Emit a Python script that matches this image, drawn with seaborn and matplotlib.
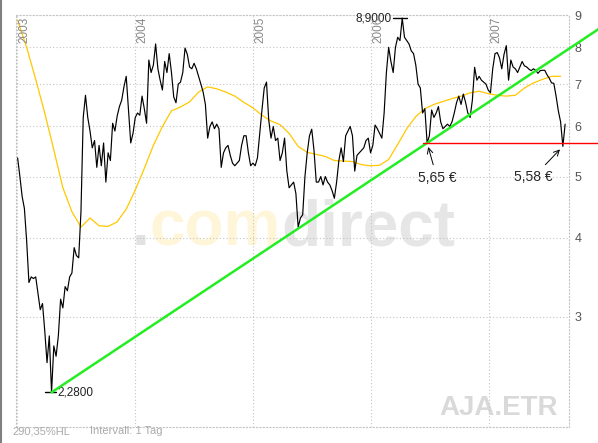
import pandas as pd
import numpy as np
import seaborn as sns
import matplotlib.pyplot as plt
from matplotlib.lines import Line2D

## weekly closing prices (EUR), first week of Jan 2003 onwards
prices = [
    5.35, 5.00, 4.65, 4.45, 3.95, 3.40, 3.47, 3.45, 3.47, 3.27,
    3.08, 3.15, 2.85, 2.54, 2.80, 2.28, 2.70, 2.60, 2.80, 3.20,
    3.10, 3.35, 3.30, 3.47, 3.52, 3.86, 3.75, 3.72, 4.40, 6.20,
    6.72, 6.20, 5.90, 5.55, 5.70, 5.17, 5.60, 5.20, 5.65, 4.90,
    5.45, 5.30, 6.07, 5.90, 6.23, 6.45, 6.60, 6.93, 7.20, 6.37,
    5.65, 5.85, 6.20, 6.30, 6.25, 6.70, 6.40, 6.07, 7.64, 7.30,
    7.50, 8.10, 7.40, 7.10, 6.85, 7.60, 7.30, 7.82, 7.30, 6.68,
    6.54, 7.00, 7.05, 7.30, 7.98, 7.80, 7.45, 7.40, 7.55, 7.40,
    7.20, 7.00, 6.80, 6.50, 5.75, 6.00, 6.10, 5.95, 6.05, 5.95,
    5.17, 5.45, 5.55, 5.60, 5.40, 5.25, 5.20, 5.25, 5.30, 5.60,
    5.80, 5.80, 5.45, 5.20, 5.25, 5.20, 5.35, 5.85, 6.37, 6.90,
    7.05, 6.14, 5.75, 6.00, 5.70, 5.75, 5.30, 5.45, 5.75, 5.10,
    4.80, 4.85, 4.90, 4.70, 4.16, 4.30, 4.35, 5.00, 5.45, 5.80,
    5.94, 5.50, 4.90, 4.90, 5.00, 4.85, 5.00, 4.90, 4.85, 4.75,
    4.62, 4.90, 5.30, 5.55, 5.28, 5.80, 5.90, 6.00, 5.80, 5.10,
    5.40, 5.45, 5.50, 5.55, 5.70, 5.75, 5.45, 5.60, 6.03, 5.95,
    5.85, 5.75, 6.30, 7.30, 8.00, 7.60, 7.30, 8.00, 8.30, 8.20,
    8.90, 8.30, 8.20, 8.10, 7.90, 7.82, 7.50, 7.00, 6.90, 6.30,
    6.40, 5.65, 5.80, 6.37, 6.20, 6.30, 6.45, 6.10, 5.95, 6.00,
    6.05, 6.00, 6.10, 6.30, 6.54, 6.70, 6.50, 6.75, 6.55, 6.30,
    6.20, 6.60, 7.44, 7.10, 7.20, 7.10, 7.05, 7.00, 6.85, 6.78,
    7.40, 7.82, 7.85, 7.70, 7.40, 7.80, 8.05, 7.10, 7.64, 7.45,
    7.40, 7.30, 7.45, 7.60, 7.48, 7.45, 7.39, 7.35, 7.40, 7.36,
    7.28, 7.35, 7.36, 7.36, 7.24, 7.15, 7.03, 7.02, 6.70, 6.35,
    6.10, 5.58, 6.05,
]

## 200 day average, sampled every 4 weeks
avg200 = [
    8.83, 8.00, 7.12, 6.30, 5.51, 4.80, 4.40, 4.16, 4.30, 4.18,
    4.17, 4.24, 4.44, 4.76, 5.15, 5.60, 6.00, 6.35, 6.44, 6.56,
    6.80, 6.93, 6.88, 6.80, 6.70, 6.55, 6.42, 6.25, 6.12, 6.04,
    5.85, 5.58, 5.46, 5.42, 5.38, 5.30, 5.29, 5.28, 5.22, 5.20,
    5.21, 5.32, 5.62, 5.95, 6.22, 6.40, 6.50, 6.57, 6.64, 6.70,
    6.78, 6.82, 6.76, 6.72, 6.70, 6.72, 6.90, 7.03, 7.12, 7.20,
    7.20,
]

year_labels = ['2003', '2004', '2005', '2006', '2007']
price_ticks = [3, 4, 5, 6, 7, 8, 9]
support = 5.65
low_labels = ['5,65 €', '5,58 €']

df = pd.DataFrame({'date': pd.date_range('2003-01-03', periods=len(prices), freq='W-FRI'),
                   'price': prices})
ma = pd.DataFrame({'date': pd.date_range('2003-01-03', periods=len(avg200), freq='4W-FRI'),
                   'avg': avg200})

sns.set_style('white')
plt.rcParams['font.family'] = ['Liberation Sans', 'DejaVu Sans']

fig = plt.figure(figsize=(5.98, 4.43), dpi=100)
ax = fig.add_axes([16 / 598, 16 / 443, 553 / 598, 412 / 443])

# watermark behind everything
wm = dict(transform=fig.transFigure, fontsize=46, fontweight='bold', va='baseline',
          zorder=0.5, clip_on=False)
ax.text(132 / 598, 1 - 245 / 443, '.', color='#e2e2e2', **wm)
ax.text(150 / 598, 1 - 245 / 443, 'com', color='#fff6da', **wm)
ax.text(281 / 598, 1 - 245 / 443, 'direct', color='#e6e6e6', **wm)
ax.text(558 / 598, 1 - 415 / 443, 'AJA.ETR', transform=fig.transFigure, fontsize=20,
        fontweight='bold', color='#d9d9d9', ha='right', va='baseline', zorder=0.5)

sns.lineplot(data=ma, x='date', y='avg', color='#ffc800', lw=0.9, estimator=None, ax=ax)
sns.lineplot(data=df, x='date', y='price', color='black', lw=0.85, estimator=None, ax=ax)

ax.set_yscale('log')
ax.set_ylim(2.01, 9.0)
x_end = pd.Timestamp('2007-09-05')
ax.set_xlim(pd.Timestamp('2002-12-29'), x_end)
edge = pd.Timestamp('2007-12-05')   # right edge of the picture

# trend line through the 2003 low and the 2006 low
i_low = df['price'].idxmin()
mid = df[(df['date'] > '2006-05-01') & (df['date'] < '2006-09-01')]
i_touch = mid['price'].idxmin()
d0, p0 = df.loc[i_low, 'date'], df.loc[i_low, 'price']
d1, p1 = df.loc[i_touch, 'date'], df.loc[i_touch, 'price']
slope = (np.log(p1) - np.log(p0)) / (d1 - d0).days
p_edge = np.exp(np.log(p0) + slope * (edge - d0).days)
ax.plot([d0, edge], [p0, p_edge], color='#22ee22', lw=1.8, clip_on=False, zorder=4)

# support line
ax.plot([d1 - pd.Timedelta(weeks=2), edge], [support, support], color='red', lw=1,
        clip_on=False, zorder=4)

# high / low markers
i_high = df['price'].idxmax()
dh, ph = df.loc[i_high, 'date'], df.loc[i_high, 'price']
ax.plot([dh - pd.Timedelta(weeks=4), dh + pd.Timedelta(weeks=2)], [ph, ph], color='black', lw=1)
ax.annotate('8,9000', xy=(dh - pd.Timedelta(weeks=4), ph), xytext=(-1, 0),
            textcoords='offset points', ha='right', va='center', fontsize=8.5, color='#222')
ax.plot([d0 - pd.Timedelta(weeks=3), d0 + pd.Timedelta(weeks=2)], [p0, p0], color='black', lw=1)
ax.annotate('2,2800', xy=(d0 + pd.Timedelta(weeks=2), p0), xytext=(1, 0),
            textcoords='offset points', ha='left', va='center', fontsize=8.5, color='#222')

# the two lows with arrows
d2, p2 = df['date'].iloc[-2], df['price'].iloc[-2]
ax.annotate(low_labels[0], xy=(d1, p1), xytext=(7, -25), textcoords='offset points',
            ha='center', va='center', fontsize=10,
            arrowprops=dict(arrowstyle='->', color='black', lw=0.7, shrinkA=2, shrinkB=3))
ax.annotate(low_labels[1], xy=(d2, p2), xytext=(-21, -22), textcoords='offset points',
            ha='center', va='center', fontsize=10,
            arrowprops=dict(arrowstyle='->', color='black', lw=0.7, shrinkA=2, shrinkB=3))

# grid, ticks, year labels
years = [pd.Timestamp(y + '-01-01') for y in year_labels]
ax.set_xticks(years)
ax.set_xticklabels([])
ax.set_yticks(price_ticks)
ax.set_yticklabels([str(t) for t in price_ticks])
ax.yaxis.set_minor_locator(plt.NullLocator())
ax.yaxis.tick_right()
ax.tick_params(axis='both', length=0)
ax.tick_params(axis='y', pad=4, labelcolor='#555555', labelsize=9)
ax.grid(True, color='#c4c4c4', ls=(0, (1, 2)), lw=0.8)
ax.set_axisbelow(True)
for s in ax.spines.values():
    s.set_color('#c4c4c4')
    s.set_linestyle((0, (1, 2)))
    s.set_linewidth(0.8)
ax.set_xlabel('')
ax.set_ylabel('')

for lab, d in zip(year_labels, years):
    ax.annotate(lab, xy=(d, 1), xycoords=('data', 'axes fraction'), xytext=(1, -1),
                textcoords='offset points', rotation=90, ha='left', va='top',
                fontsize=8.5, color='#888888')

fig.text(12 / 598, 1 - 431 / 443, '290,35%HL', va='center', fontsize=8, color='#aaaaaa')
fig.text(90 / 598, 1 - 431 / 443, 'Intervall: 1 Tag', va='center', fontsize=8, color='#aaaaaa')
fig.add_artist(Line2D([0.8 / 598, 0.8 / 598], [0, 1], color='#808080', lw=1.5))

fig.savefig('out.png', dpi=100)
